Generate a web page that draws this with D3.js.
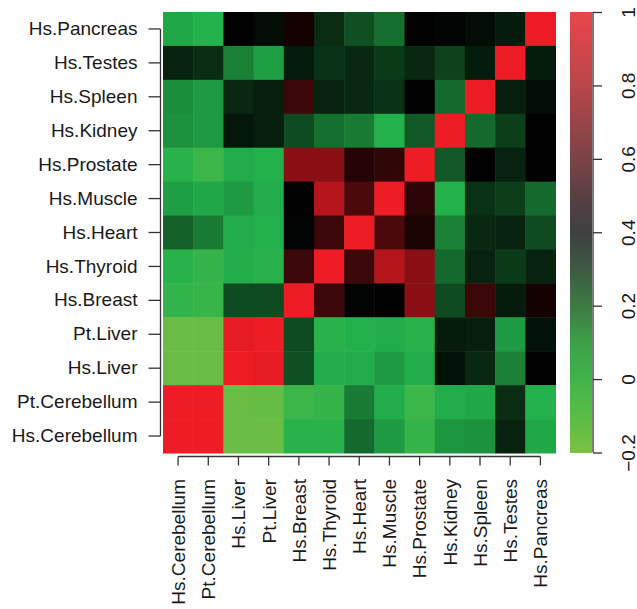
<!DOCTYPE html>
<html>
<head>
<meta charset="utf-8">
<script src="https://cdn.jsdelivr.net/npm/d3@7"></script>
<style>
  html, body { margin: 0; padding: 0; background: #ffffff; }
  svg { display: block; }
  text { font-family: "Liberation Sans", Arial, Helvetica, sans-serif; fill: #1a1a1a; }
</style>
</head>
<body>
<svg id="chart" width="637" height="609"></svg>
<script>
// Row labels, top to bottom
const rowLabels = ["Hs.Pancreas","Hs.Testes","Hs.Spleen","Hs.Kidney","Hs.Prostate","Hs.Muscle",
  "Hs.Heart","Hs.Thyroid","Hs.Breast","Pt.Liver","Hs.Liver","Pt.Cerebellum","Hs.Cerebellum"];
// Column labels, left to right
const colLabels = ["Hs.Cerebellum","Pt.Cerebellum","Hs.Liver","Pt.Liver","Hs.Breast","Hs.Thyroid",
  "Hs.Heart","Hs.Muscle","Hs.Prostate","Hs.Kidney","Hs.Spleen","Hs.Testes","Hs.Pancreas"];

// Correlation values, one array per row (top to bottom), columns left to right
const rowPancreas     = [0.02, 0.00, 0.40, 0.37, 0.45, 0.30, 0.22, 0.15, 0.40, 0.39, 0.37, 0.34, 1.00];
const rowTestes       = [0.32, 0.30, 0.11, 0.04, 0.34, 0.29, 0.31, 0.27, 0.31, 0.25, 0.34, 1.00, 0.34];
const rowSpleen       = [0.08, 0.05, 0.31, 0.33, 0.55, 0.32, 0.31, 0.29, 0.40, 0.16, 1.00, 0.33, 0.37];
const rowKidney       = [0.07, 0.05, 0.35, 0.33, 0.23, 0.15, 0.12, 0.00, 0.20, 1.00, 0.16, 0.26, 0.40];
const rowProstate     = [-0.02, -0.07, 0.01, 0.00, 0.75, 0.75, 0.49, 0.52, 1.00, 0.20, 0.40, 0.32, 0.40];
const rowMuscle       = [0.04, 0.02, 0.05, 0.01, 0.40, 0.86, 0.59, 1.00, 0.51, 0.00, 0.29, 0.26, 0.16];
const rowHeart        = [0.18, 0.12, 0.01, 0.00, 0.39, 0.55, 1.00, 0.59, 0.47, 0.11, 0.31, 0.32, 0.23];
const rowThyroid      = [-0.02, -0.05, 0.01, -0.02, 0.55, 1.00, 0.55, 0.85, 0.75, 0.16, 0.32, 0.27, 0.32];
const rowBreast       = [-0.04, -0.06, 0.23, 0.23, 1.00, 0.55, 0.39, 0.40, 0.75, 0.23, 0.55, 0.34, 0.45];
const rowPtLiver      = [-0.19, -0.19, 0.98, 1.00, 0.23, -0.02, 0.00, 0.01, -0.02, 0.34, 0.33, 0.05, 0.36];
const rowHsLiver      = [-0.19, -0.19, 1.00, 0.98, 0.22, 0.01, 0.01, 0.05, 0.01, 0.36, 0.31, 0.11, 0.40];
const rowPtCerebellum = [1.00, 1.00, -0.19, -0.18, -0.07, -0.05, 0.12, 0.01, -0.07, 0.01, 0.02, 0.30, 0.00];
const rowHsCerebellum = [1.00, 1.00, -0.19, -0.19, -0.02, -0.02, 0.16, 0.05, -0.05, 0.06, 0.07, 0.32, 0.02];

const matrix = [rowPancreas, rowTestes, rowSpleen, rowKidney, rowProstate, rowMuscle, rowHeart,
  rowThyroid, rowBreast, rowPtLiver, rowHsLiver, rowPtCerebellum, rowHsCerebellum];

// Colour key
const legendTicks = [-0.2, 0, 0.2, 0.4, 0.6, 0.8, 1];
const legendStopValues = [-0.2, -0.1, 0, 0.1, 0.2, 0.3, 0.4, 0.5, 0.6, 0.8, 1];
const legendStopColors = ["#7cc242","#5abc46","#40b44a","#3ea048","#3e7a44","#3e5a44","#3e4040",
  "#5a4044","#7a4446","#b8464a","#e8454a"];

// Cell colour scale
const colorDomain = [-0.2, 0, 0.4, 1];
const colorRange = ["#6dbe45", "#22b14b", "#000000", "#ee1c24"];

const svg = d3.select("#chart");

const x = d3.scaleBand().domain(colLabels).range([163, 555.5]).padding(0);
const y = d3.scaleBand().domain(rowLabels).range([12, 453]).padding(0);
const color = d3.scaleLinear().domain(colorDomain).range(colorRange).interpolate(d3.interpolateRgb).clamp(true);

const cells = [];
matrix.forEach((row, i) => row.forEach((v, j) => cells.push({r: rowLabels[i], c: colLabels[j], v})));

svg.append("g").selectAll("rect").data(cells).join("rect")
  .attr("x", d => x(d.c))
  .attr("y", d => y(d.r))
  .attr("width", x.bandwidth() + 0.5)
  .attr("height", y.bandwidth() + 0.5)
  .attr("fill", d => color(d.v));

const axisColor = "#333333";

// Left axis
const yAxis = svg.append("g").attr("transform", "translate(160.5,0)")
  .call(d3.axisLeft(y).tickSize(12).tickPadding(11));
yAxis.select(".domain").remove();
yAxis.selectAll(".tick line").attr("stroke", axisColor).attr("stroke-width", 1.3);
yAxis.selectAll(".tick text").style("font-size", "19px").attr("fill", "#1a1a1a")
  .style("font-family", "'Liberation Sans', Arial, sans-serif");
yAxis.append("line")
  .attr("x1", 0).attr("x2", 0)
  .attr("y1", y(rowLabels[0]) + y.bandwidth() / 2)
  .attr("y2", y(rowLabels[rowLabels.length - 1]) + y.bandwidth() / 2)
  .attr("stroke", axisColor).attr("stroke-width", 1.3);

// Bottom axis
const xAxis = svg.append("g").attr("transform", "translate(0,456.5)")
  .call(d3.axisBottom(x).tickSize(9).tickFormat(""));
xAxis.select(".domain").remove();
xAxis.selectAll(".tick line").attr("stroke", axisColor).attr("stroke-width", 1.3);
xAxis.append("line")
  .attr("y1", 0).attr("y2", 0)
  .attr("x1", x(colLabels[0]) + x.bandwidth() / 2)
  .attr("x2", x(colLabels[colLabels.length - 1]) + x.bandwidth() / 2)
  .attr("stroke", axisColor).attr("stroke-width", 1.3);
svg.append("g").selectAll("text").data(colLabels).join("text")
  .attr("transform", d => `translate(${x(d) + x.bandwidth() / 2},479) rotate(-90)`)
  .attr("text-anchor", "end")
  .attr("dy", "0.36em")
  .style("font-size", "19px")
  .text(d => d);

// Colour key
const ly = d3.scaleLinear().domain([-0.2, 1]).range([452.5, 12]);
const defs = svg.append("defs");
const grad = defs.append("linearGradient").attr("id", "keyGrad")
  .attr("x1", 0).attr("x2", 0).attr("y1", 1).attr("y2", 0);
grad.selectAll("stop").data(legendStopValues).join("stop")
  .attr("offset", d => (d + 0.2) / 1.2)
  .attr("stop-color", (d, i) => legendStopColors[i]);
svg.append("rect")
  .attr("x", 570).attr("width", 22)
  .attr("y", ly(1)).attr("height", ly(-0.2) - ly(1) + 0.5)
  .attr("fill", "url(#keyGrad)");

const keyAxis = svg.append("g").attr("transform", "translate(593,0)")
  .call(d3.axisRight(ly).tickValues(legendTicks).tickSize(9).tickFormat(d3.format("")));
keyAxis.select(".domain").attr("stroke", axisColor).attr("stroke-width", 1.3)
  .attr("d", `M0,${ly(-0.2)}V${ly(1)}`);
keyAxis.selectAll(".tick line").attr("stroke", axisColor).attr("stroke-width", 1.3);
keyAxis.selectAll(".tick text")
  .attr("x", null).attr("dy", null)
  .attr("transform", "translate(41.5,0) rotate(-90)")
  .attr("text-anchor", "middle")
  .style("font-size", "19px")
  .style("font-family", "'Liberation Sans', Arial, sans-serif")
  .attr("fill", "#1a1a1a");
</script>
</body>
</html>
